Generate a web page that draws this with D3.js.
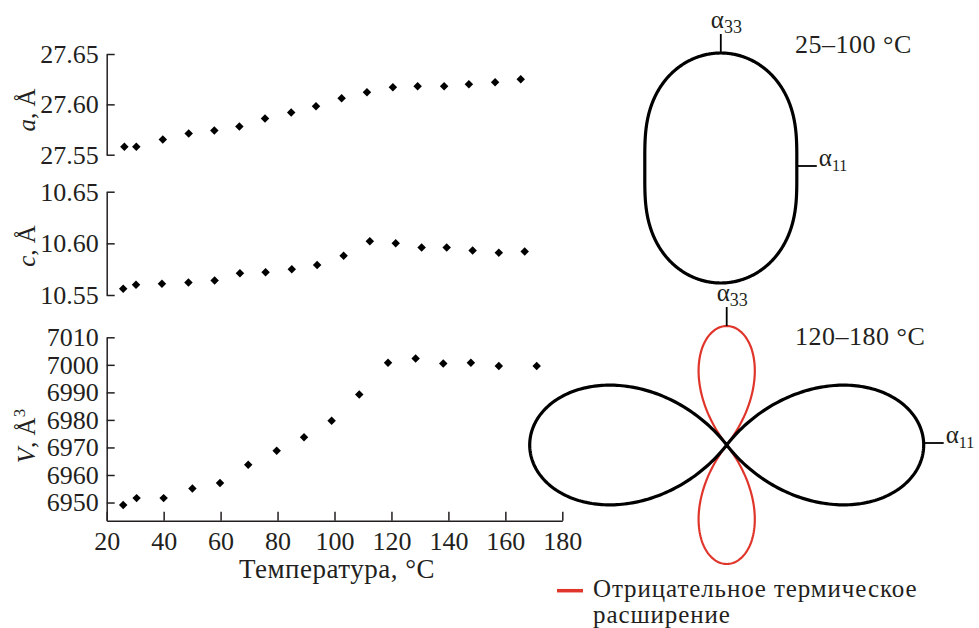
<!DOCTYPE html>
<html>
<head>
<meta charset="utf-8">
<script src="https://cdn.jsdelivr.net/npm/d3@7"></script>
<style>
  body { margin: 0; background: #fff; }
  svg text { font-family: "Liberation Serif", "Times New Roman", serif; fill: #231f20; }
</style>
</head>
<body>
<svg width="979" height="628"></svg>
<script>
// data
var tempA = [26.2, 30.4, 39.7, 48.8, 57.8, 66.6, 75.6, 84.8, 93.5, 102.5, 111.4, 120.5, 129.2, 138.5, 147.2, 156.4, 165.4];
var aVals = [27.558, 27.558, 27.565, 27.571, 27.574, 27.578, 27.586, 27.592, 27.598, 27.606, 27.612, 27.617, 27.618, 27.618, 27.620, 27.622, 27.625];
var tempC = [25.8, 30.3, 39.4, 48.7, 57.9, 66.8, 75.8, 85.0, 93.9, 103.2, 112.4, 121.5, 130.6, 139.4, 148.5, 157.7, 166.8];
var cVals = [10.556, 10.560, 10.561, 10.562, 10.564, 10.571, 10.572, 10.575, 10.579, 10.588, 10.602, 10.600, 10.596, 10.596, 10.593, 10.591, 10.592];
var tempV = [25.8, 30.5, 40.0, 50.1, 59.8, 69.7, 79.7, 89.3, 99.0, 108.7, 118.8, 128.5, 138.2, 147.9, 157.7, 171.0];
var vVals = [6949.1, 6951.6, 6951.6, 6955.1, 6957.1, 6963.7, 6968.8, 6973.7, 6979.7, 6989.2, 7000.8, 7002.3, 7000.5, 7000.8, 6999.6, 6999.6];

var xTicks = [20, 40, 60, 80, 100, 120, 140, 160, 180];
var aTicks = [27.55, 27.60, 27.65];
var cTicks = [10.55, 10.60, 10.65];
var vTicks = [6950, 6960, 6970, 6980, 6990, 7000, 7010];

// expansion coefficients (relative units) for the two ranges
var ranges = ["25\u2013100 \u00b0C", "120\u2013180 \u00b0C"];
var alpha11 = [7.6, 19.7];
var alpha33 = [11.5, -11.9];

var svg = d3.select("svg");
var ink = "#231f20", red = "#e0352b";

var x = d3.scaleLinear().domain([20, 180]).range([106.7, 562.3]);

var panels = [
    {temp: tempA, vals: aVals, ticks: aTicks, domain: [27.55, 27.65], range: [154.7, 54], fmt: ".2f", lab: "a", sup: "", ly: 110},
    {temp: tempC, vals: cVals, ticks: cTicks, domain: [10.55, 10.65], range: [295, 191.7], fmt: ".2f", lab: "c", sup: "", ly: 246},
    {temp: tempV, vals: vVals, ticks: vTicks, domain: [6943.4, 7010], range: [520.7, 337.3], fmt: "d", lab: "V", sup: "3", ly: 436}
];

var diamond = d3.symbol().type(d3.symbolSquare).size(36);

panels.forEach(function (p) {
    var y = d3.scaleLinear().domain(p.domain).range(p.range);

    var g = svg.append("g")
        .attr("transform", "translate(" + x.range()[0] + ",0)")
        .call(d3.axisLeft(y).tickValues(p.ticks).tickFormat(d3.format(p.fmt))
            .tickSizeInner(-8).tickSizeOuter(0).tickPadding(8));
    g.select(".domain").attr("stroke", ink).attr("stroke-width", 1.5);
    g.selectAll(".tick line").attr("stroke", ink).attr("stroke-width", 1.5);
    g.selectAll(".tick text").attr("font-size", 26).attr("font-family", "Liberation Serif").attr("fill", ink);

    // axis title, rotated
    var t = svg.append("text")
        .attr("transform", "translate(35," + p.ly + ") rotate(-90)")
        .attr("text-anchor", "middle")
        .attr("font-size", 25);
    t.append("tspan").attr("font-style", "italic").text(p.lab);
    t.append("tspan").text(", \u00c5");
    if (p.sup) {
        t.append("tspan").attr("font-size", 17).attr("dy", -10).text(p.sup);
    }

    svg.append("g")
        .selectAll("path")
        .data(p.vals)
        .enter()
        .append("path")
        .attr("d", diamond)
        .attr("transform", function (d, i) {
            return "translate(" + x(p.temp[i]) + "," + y(d) + ") rotate(45)";
        })
        .attr("fill", "#000");
});

// x axis
var gx = svg.append("g")
    .attr("transform", "translate(0,520.7)")
    .call(d3.axisBottom(x).tickValues(xTicks).tickSizeInner(-9).tickSizeOuter(0).tickPadding(11));
gx.select(".domain").attr("stroke", ink).attr("stroke-width", 1.5);
gx.selectAll(".tick line").attr("stroke", ink).attr("stroke-width", 1.5);
gx.selectAll(".tick text").attr("font-size", 26).attr("font-family", "Liberation Serif").attr("fill", ink);

svg.append("text")
    .attr("x", 337).attr("y", 578)
    .attr("text-anchor", "middle")
    .attr("font-size", 27)
    .attr("letter-spacing", 0.5)
    .text("Температура, \u00b0C");

// polar diagrams of thermal expansion: r = a11 sin^2 + a33 cos^2
var r = d3.scaleLinear().domain([0, 1]).range([0, 10]);
var thetas = d3.range(0, 2 * Math.PI + 0.001, Math.PI / 360);
var centers = [[720.8, 168], [726.7, 445]];

function alpha(k, th) {
    var s = Math.sin(th), c = Math.cos(th);
    return alpha11[k] * s * s + alpha33[k] * c * c;
}

ranges.forEach(function (label, k) {
    var cx = centers[k][0], cy = centers[k][1];
    var g = svg.append("g").attr("transform", "translate(" + cx + "," + cy + ")");

    var neg = d3.lineRadial().angle(function (d) { return d; })
        .radius(function (d) { return r(Math.max(-alpha(k, d), 0)); });
    var pos = d3.lineRadial().angle(function (d) { return d; })
        .radius(function (d) { return r(Math.max(alpha(k, d), 0)); });

    if (alpha33[k] < 0) {
        g.append("path").attr("d", neg(thetas)).attr("fill", "none")
            .attr("stroke", red).attr("stroke-width", 2.2);
    }
    g.append("path").attr("d", pos(thetas)).attr("fill", "none")
        .attr("stroke", "#000").attr("stroke-width", 3.2).attr("stroke-linejoin", "round");

    // axis marks for alpha33 (top) and alpha11 (right)
    var top = r(Math.abs(alpha33[k])), right = r(alpha11[k]);
    g.append("line").attr("x1", 0).attr("x2", 0).attr("y1", -top).attr("y2", -top - 19)
        .attr("stroke", "#000").attr("stroke-width", 1.8);
    g.append("line").attr("x1", right).attr("x2", right + 20).attr("y1", -2).attr("y2", -2)
        .attr("stroke", "#000").attr("stroke-width", 1.8);

    var t33 = g.append("text").attr("x", -10).attr("y", -top - 25).attr("font-size", 25);
    t33.append("tspan").text("\u03b1");
    t33.append("tspan").attr("font-size", 18).attr("dy", 5).text("33");

    var t11 = g.append("text").attr("x", right + 22).attr("y", -2).attr("font-size", 25);
    t11.append("tspan").text("\u03b1");
    t11.append("tspan").attr("font-size", 16).attr("dy", 5).text("11");

    svg.append("text")
        .attr("x", 795).attr("y", k === 0 ? 53 : 345)
        .attr("font-size", 26)
        .attr("letter-spacing", 0.5)
        .text(label);
});

// legend
svg.append("line")
    .attr("x1", 557).attr("x2", 583).attr("y1", 590.7).attr("y2", 590.7)
    .attr("stroke", red).attr("stroke-width", 3.5);
var leg = svg.append("text").attr("x", 593).attr("y", 597).attr("font-size", 25).attr("letter-spacing", 0.9);
leg.append("tspan").attr("x", 593).text("Отрицательное термическое");
leg.append("tspan").attr("x", 593).attr("dy", 26).text("расширение");
</script>
</body>
</html>
